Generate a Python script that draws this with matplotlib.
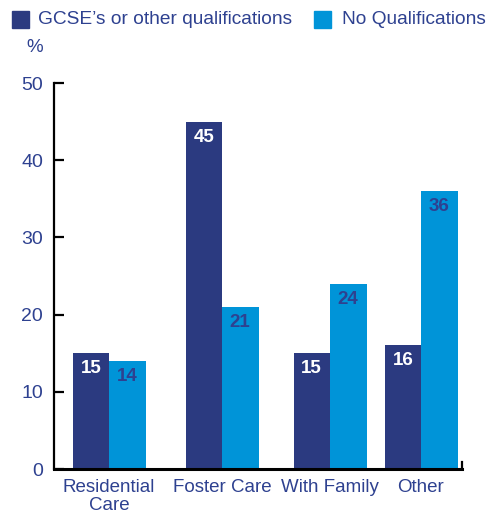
import matplotlib.pyplot as plt
from matplotlib.patches import Rectangle

categories = ["Residential\nCare", "Foster Care", "With Family", "Other"]
gcse = [15, 45, 15, 16]
noqual = [14, 21, 24, 36]
series_names = ["GCSE\u2019s or other qualifications", "No Qualifications"]
yticks = [0, 10, 20, 30, 40, 50]

dark = "#2B3A80"
light = "#0094D8"
txt = "#2E4190"

W, H = 492, 515
fig = plt.figure(figsize=(W / 100, H / 100), dpi=100)
plt.rcParams['font.family'] = ['Liberation Sans', 'DejaVu Sans']

# axes in pixel coordinates
x0, x1 = 54, 462
y0, y1 = 469, 83
ax = fig.add_axes([x0 / W, 1 - y0 / H, (x1 - x0) / W, (y0 - y1) / H])

# group centres (layout) in pixels
centres_px = [109, 222, 330, 421]
centres = [c - x0 for c in centres_px]
bw = 36.5

ax.set_xlim(0, x1 - x0)
ax.set_ylim(0, 50)
b1 = ax.bar([c - bw / 2 for c in centres], gcse, width=bw, color=dark, label=series_names[0])
b2 = ax.bar([c + bw / 2 for c in centres], noqual, width=bw, color=light, label=series_names[1])

for rect, v in zip(b1, gcse):
    ax.text(rect.get_x() + rect.get_width() / 2, v - 0.9, str(v), ha='center', va='top',
            color='white', fontsize=13.5, fontweight='bold')
for rect, v in zip(b2, noqual):
    ax.text(rect.get_x() + rect.get_width() / 2, v - 0.9, str(v), ha='center', va='top',
            color=txt, fontsize=13.5, fontweight='bold')

for s in ['top', 'right']:
    ax.spines[s].set_visible(False)
ax.spines['left'].set_linewidth(1.6)
ax.spines['bottom'].set_linewidth(2.2)
ax.spines['left'].set_color('black')
ax.spines['bottom'].set_color('black')

ax.set_yticks(yticks)
ax.set_yticklabels([str(t) for t in yticks], color=txt, fontsize=14)
ax.tick_params(axis='y', direction='in', length=7, width=1.6, pad=8, colors='black', labelcolor=txt)
ax.set_xticks(centres)
ax.set_xticklabels(categories, color=txt, fontsize=13.5, linespacing=1.12)
ax.tick_params(axis='x', length=0, pad=7, labelcolor=txt)

# small end tick on right of baseline
ax.plot([x1 - x0 - 0.5, x1 - x0 - 0.5], [0, 0.9], color='black', lw=1.6, clip_on=False)

# "%" label
fig.text(35 / W, 1 - 48 / H, "%", ha='center', va='center', color=txt, fontsize=13.5)

# legend (manual)
for sx, tx, col, name in [(12, 38, dark, series_names[0]), (314, 342, light, series_names[1])]:
    fig.patches.append(Rectangle((sx / W, 1 - 28 / H), 17 / W, 17 / H, transform=fig.transFigure,
                                 color=col, figure=fig))
    fig.text(tx / W, 1 - 20 / H, name, ha='left', va='center', color=txt, fontsize=13.8)

fig.savefig("out.png", dpi=100)
